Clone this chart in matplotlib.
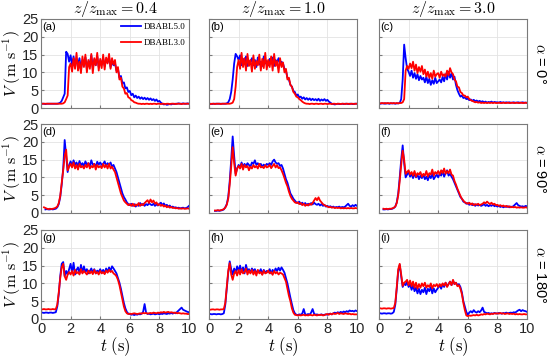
import numpy as np
import matplotlib
matplotlib.use("Agg")
import matplotlib.pyplot as plt

plt.rcParams['font.family'] = ['Liberation Sans', 'DejaVu Sans']
plt.rcParams['mathtext.fontset'] = 'cm'

nan = np.nan

# sample times (s), 0.1 s steps
t = np.linspace(0, 10, 101)

# column / row labels
z_ratios = ["0.4", "1.0", "3.0"]
alphas = ["0°", "90°", "180°"]
series_names = ["DBABL5.0", "DBABL3.0"]

# ---- alpha = 0 ----
a_blue = [1.2, 1.2, 1.2, 1.1, 1.2, 1.2, 1.2, 1.2, 1.2, 1.2,
          1.2, 1.2, 1.3, 1.5, 2.0, 3.0, 4.0, 15.8, 15.2, 13.0,
          14.8, 12.0, 14.5, 11.5, 13.8, 12.2, 14.0, 10.8, 13.5, 12.0,
          14.2, 11.0, 13.0, 12.5, 14.8, 11.2, 13.6, 12.0, 14.5, 11.5,
          13.2, 12.4, 14.0, 11.8, 13.5, 12.8, 14.2, 11.5, 13.0, 12.0,
          12.5, 10.5, 11.0, 8.5, 9.0, 7.0, 7.2, 5.5, 5.8, 4.5,
          4.8, 3.6, 4.0, 3.0, 3.5, 2.8, 3.2, 2.6, 3.0, 2.5,
          2.9, 2.4, 2.8, 2.3, 2.7, 2.2, 2.5, 2.0, 2.4, 1.8,
          2.0, 1.5, 1.2, 1.0, 1.1, 0.9, 1.0, 1.1, 1.0, 1.2,
          1.1, 1.2, 1.2, 1.3, 1.2, 1.2, 1.3, 1.2, 1.2, 1.3,
          1.2]
a_red = [1.2, 1.2, 1.2, 1.2, 1.2, 1.2, 1.2, 1.2, 1.2, 1.2,
         1.2, 1.2, 1.2, 1.2, 1.2, 1.3, 1.6, 2.5, 3.5, 11.5,
         12.5, 10.2, 14.0, 11.0, 15.5, 10.5, 13.0, 9.8, 14.5, 11.5,
         15.0, 10.0, 13.5, 11.0, 15.2, 9.8, 14.0, 12.0, 15.5, 10.5,
         13.8, 11.2, 15.0, 10.8, 14.2, 12.5, 15.2, 11.0, 14.0, 12.2,
         13.5, 10.0, 11.5, 8.0, 8.5, 6.0, 5.5, 4.0, 4.2, 3.0,
         2.8, 2.2, 2.0, 1.6, 1.5, 1.3, 1.2, 1.2, 1.1, 1.2,
         1.1, 1.2, 1.2, 1.1, 1.2, 1.1, 1.2, 1.2, 1.1, 1.2,
         1.2, 1.1, 1.2, 1.2, 1.1, 1.2, 1.2, 1.1, 1.2, 1.2,
         1.2, 1.1, 1.2, 1.2, 1.2, 1.1, 1.2, 1.2, 1.2, 1.2,
         1.2]
b_blue = [1.2, 1.2, 1.1, 1.2, 1.2, 1.2, 1.2, 1.2, 1.2, 1.2,
          1.2, 1.2, 1.3, 1.6, 2.5, 4.5, 8.0, 12.5, 15.2, 14.5,
          13.5, 14.8, 12.0, 13.8, 12.5, 14.5, 11.8, 13.2, 12.8, 14.0,
          12.0, 13.5, 11.5, 14.2, 12.2, 13.0, 11.8, 14.5, 12.5, 13.2,
          12.0, 13.8, 12.5, 14.2, 11.8, 13.5, 12.8, 14.0, 12.2, 13.0,
          12.5, 11.0, 10.5, 8.5, 8.0, 6.5, 6.0, 4.8, 4.5, 3.5,
          3.8, 3.0, 3.2, 2.6, 3.0, 2.4, 2.8, 2.3, 2.7, 2.2,
          2.6, 2.2, 2.5, 2.1, 2.6, 2.0, 2.4, 2.1, 2.5, 2.0,
          2.3, 1.8, 1.5, 1.2, 1.1, 1.0, 1.1, 1.2, 1.1, 1.1,
          1.2, 1.1, 1.2, 1.2, 1.1, 1.2, 1.2, 1.1, 1.2, 1.2,
          1.2]
b_red = [1.2, 1.1, 1.2, 1.2, 1.1, 1.2, 1.2, 1.2, 1.1, 1.2,
         1.2, 1.2, 1.2, 1.2, 1.2, 1.3, 1.5, 2.5, 6.0, 11.5,
         13.5, 11.0, 15.5, 11.5, 14.0, 10.5, 15.2, 11.8, 13.5, 10.2,
         14.8, 11.0, 13.2, 12.0, 15.0, 10.5, 13.8, 11.2, 15.5, 10.8,
         13.5, 11.5, 14.5, 10.5, 15.2, 11.8, 13.2, 10.0, 14.0, 11.5,
         12.8, 10.0, 11.0, 8.0, 8.5, 6.5, 6.0, 4.5, 4.0, 3.2,
         3.0, 2.5, 2.2, 1.8, 1.5, 1.3, 1.2, 1.2, 1.1, 1.2,
         1.2, 1.1, 1.2, 1.2, 1.1, 1.2, 1.2, 1.1, 1.2, 1.2,
         1.1, 1.2, 1.2, 1.1, 1.2, 1.2, 1.1, 1.2, 1.2, 1.1,
         1.2, 1.2, 1.1, 1.2, 1.2, 1.1, 1.2, 1.2, 1.1, 1.2,
         1.2]
c_blue = [1.3, 1.2, 1.3, 1.3, 1.2, 1.3, 1.3, 1.2, 1.3, 1.3,
          1.3, 1.2, 1.3, 1.3, 1.4, 2.5, 8.0, 17.8, 14.0, 11.0,
          10.2, 9.0, 10.5, 8.5, 9.8, 8.2, 9.5, 7.8, 9.0, 8.0,
          8.5, 7.2, 8.8, 7.0, 8.2, 6.5, 7.8, 6.8, 8.5, 7.0,
          7.5, 8.0, 7.2, 8.8, 7.5, 9.5, 8.0, 10.2, 8.5, 9.8,
          8.0, 8.8, 6.5, 5.0, 4.0, 3.2, 3.5, 2.8, 3.0, 2.5,
          2.6, 2.2, 2.4, 2.0, 2.3, 1.9, 2.1, 1.8, 2.0, 1.7,
          1.9, 1.6, 1.8, 1.5, 1.7, 1.6, 1.8, 1.5, 1.7, 1.6,
          1.6, 1.5, 1.7, 1.5, 1.6, 1.5, 1.6, 1.5, 1.6, 1.5,
          1.5, 1.6, 1.5, 1.5, 1.6, 1.5, 1.5, 1.6, 1.5, 1.5,
          1.5]
c_red = [1.4, 1.3, 1.4, 1.3, 1.4, 1.3, 1.4, 1.3, 1.4, 1.3,
         1.4, 1.3, 1.4, 1.3, 1.4, 1.4, 1.6, 2.5, 10.5, 11.8,
         11.0, 12.5, 11.2, 13.0, 10.5, 12.2, 9.8, 11.5, 10.2, 11.8,
         9.5, 10.8, 8.8, 10.2, 8.5, 9.8, 8.2, 10.5, 8.8, 9.5,
         9.8, 8.5, 10.2, 9.0, 9.5, 8.8, 10.5, 9.2, 11.2, 10.0,
         9.5, 8.0, 7.5, 6.0, 5.8, 4.5, 4.2, 3.5, 3.5, 3.0,
         3.2, 2.5, 2.2, 2.0, 1.8, 1.6, 1.7, 1.5, 1.6, 1.4,
         1.5, 1.4, 1.5, 1.4, 1.5, 1.4, 1.5, 1.4, 1.5, 1.4,
         1.4, 1.5, 1.4, 1.4, 1.5, 1.4, 1.4, 1.5, 1.4, 1.4,
         1.5, 1.4, 1.4, 1.5, 1.4, 1.4, 1.5, 1.4, 1.4, 1.5,
         1.4]

# ---- alpha = 90 ----
d_blue = [nan, nan, nan, 1.0, 1.1, 1.0, 1.0, 1.1, 1.0, 1.1,
          1.2, 1.6, 2.5, 4.5, 8.0, 12.5, 20.5, 16.0, 11.5, 13.5,
          14.5, 13.2, 14.8, 13.5, 14.2, 13.0, 14.6, 13.4, 14.0, 13.2,
          14.5, 13.6, 14.0, 13.2, 14.8, 13.5, 13.8, 13.0, 14.4, 13.6,
          14.2, 13.5, 13.8, 14.5, 13.2, 14.0, 13.6, 14.2, 13.0, 13.5,
          12.5, 11.5, 10.0, 8.5, 7.0, 5.5, 4.5, 3.8, 3.0, 2.5,
          2.2, 2.6, 2.0, 2.5, 1.8, 2.4, 2.0, 2.8, 2.2, 2.6,
          2.0, 2.5, 2.2, 2.8, 2.4, 2.2, 2.6, 2.0, 2.4, 2.1,
          2.6, 2.9, 2.2, 2.7, 2.0, 2.3, 1.8, 2.1, 1.6, 1.8,
          1.5, 1.6, 1.4, 1.5, 1.3, 1.4, 1.5, 1.3, 1.4, 1.6,
          2.0]
d_red = [nan, nan, 1.6, 1.4, 1.2, 1.1, 1.2, 1.1, 1.2, 1.3,
         1.5, 1.8, 2.8, 4.8, 8.5, 12.0, 16.0, 17.8, 12.0, 13.0,
         13.8, 12.8, 14.2, 12.5, 13.5, 12.2, 13.8, 12.8, 13.2, 12.5,
         13.5, 12.8, 14.0, 12.5, 13.2, 12.8, 13.8, 12.2, 13.5, 12.8,
         13.2, 12.6, 13.8, 12.8, 13.5, 12.5, 13.8, 12.5, 13.0, 12.2,
         11.5, 10.0, 8.5, 7.0, 5.5, 4.5, 3.5, 3.0, 2.6, 2.2,
         2.5, 2.0, 2.6, 1.9, 2.4, 2.1, 2.8, 2.0, 2.5, 2.2,
         2.8, 3.2, 3.6, 2.8, 3.8, 3.0, 3.5, 2.6, 3.0, 2.2,
         2.5, 2.0, 2.3, 1.8, 2.1, 1.6, 1.9, 1.5, 1.7, 1.4,
         1.5, 1.3, 1.4, 1.2, 1.3, 1.2, 1.3, 1.2, 1.2, 1.3,
         1.2]
e_blue = [nan, nan, nan, nan, 0.6, 0.6, 0.7, 0.6, 0.7, 0.8,
          1.0, 1.6, 2.5, 4.5, 9.0, 15.0, 21.5, 16.0, 11.0, 12.5,
          13.5, 12.8, 14.2, 13.0, 13.8, 13.2, 14.0, 13.5, 13.0, 14.2,
          13.8, 14.8, 13.5, 14.0, 13.2, 13.8, 13.0, 13.6, 13.2, 13.8,
          13.5, 14.0, 13.5, 14.5, 15.0, 14.2, 13.8, 14.0, 13.2, 13.5,
          12.5, 11.0, 9.5, 8.5, 7.0, 5.5, 4.8, 4.0, 3.5, 3.0,
          2.8, 3.2, 2.5, 2.9, 2.4, 2.8, 2.2, 2.6, 2.3, 2.8,
          2.4, 2.9, 2.5, 2.3, 2.6, 2.1, 2.5, 2.0, 2.3, 1.8,
          2.0, 1.7, 1.9, 1.6, 1.8, 1.5, 1.7, 1.6, 1.8, 1.5,
          1.7, 1.6, 1.8, 2.2, 2.6, 2.0, 1.8, 2.2, 1.9, 2.3,
          2.0]
e_red = [nan, nan, nan, nan, 0.7, 0.7, 0.8, 0.7, 0.8, 0.9,
         1.1, 1.5, 2.3, 4.0, 8.0, 13.0, 18.5, 14.0, 10.5, 12.5,
         13.2, 12.5, 13.8, 12.2, 13.5, 12.8, 13.2, 12.0, 13.0, 12.5,
         13.5, 12.8, 13.2, 12.5, 13.8, 12.8, 13.0, 12.6, 13.4, 12.8,
         13.0, 13.5, 12.6, 13.2, 13.8, 12.8, 13.4, 12.6, 12.8, 12.0,
         11.0, 9.8, 8.5, 7.5, 6.0, 4.8, 4.0, 3.5, 3.0, 2.8,
         3.0, 2.5, 2.8, 2.2, 2.6, 2.0, 2.4, 2.1, 2.6, 2.3,
         2.8, 3.5, 4.2, 3.6, 4.4, 3.5, 3.0, 2.5, 2.2, 2.0,
         1.8, 1.6, 1.7, 1.5, 1.6, 1.4, 1.5, 1.4, 1.5, 1.3,
         1.4, 1.3, 1.4, 1.3, 1.4, 1.3, 1.4, 1.3, 1.3, 1.4,
         1.3]
f_blue = [nan, nan, nan, 1.0, 1.0, 1.1, 1.0, 1.1, 1.1, 1.2,
          1.4, 1.8, 3.0, 5.5, 10.0, 15.0, 19.0, 14.0, 10.0, 10.8,
          11.5, 10.2, 11.0, 9.8, 11.2, 10.0, 10.8, 9.5, 10.5, 9.8,
          10.8, 9.5, 10.2, 9.2, 10.5, 9.8, 11.0, 9.5, 10.2, 10.8,
          10.0, 11.0, 10.5, 11.8, 10.2, 11.2, 12.0, 10.5, 11.0, 10.2,
          9.5, 8.5, 7.5, 6.5, 5.5, 4.5, 4.0, 3.2, 3.0, 2.6,
          2.8, 2.3, 2.6, 2.2, 2.5, 2.0, 2.4, 2.1, 2.3, 2.0,
          2.2, 2.5, 2.0, 2.3, 1.9, 2.2, 2.0, 2.4, 1.9, 2.1,
          1.8, 2.0, 1.7, 1.9, 1.6, 1.8, 1.7, 1.9, 1.6, 1.8,
          1.7, 2.0, 2.4, 2.8, 2.2, 2.0, 1.8, 1.9, 1.7, 2.0,
          1.9]
f_red = [nan, nan, nan, 1.2, 1.1, 1.2, 1.1, 1.2, 1.2, 1.3,
         1.5, 1.8, 2.8, 5.0, 9.0, 13.5, 17.5, 15.0, 11.0, 11.5,
         12.0, 10.8, 11.5, 10.5, 11.8, 10.2, 11.2, 10.8, 11.5, 10.2,
         11.0, 10.5, 11.8, 10.2, 11.2, 10.8, 12.2, 10.5, 11.5, 11.0,
         11.8, 10.8, 12.0, 11.2, 12.5, 11.0, 11.8, 11.2, 12.2, 10.8,
         10.5, 9.0, 8.0, 6.8, 5.8, 4.8, 4.0, 3.5, 3.0, 2.8,
         2.6, 2.9, 2.4, 2.7, 2.2, 2.5, 2.3, 2.6, 2.2, 2.4,
         2.6, 3.0, 2.7, 3.2, 2.8, 2.5, 2.9, 2.4, 2.6, 2.2,
         2.3, 2.0, 2.2, 1.9, 2.1, 1.8, 2.0, 1.7, 1.9, 1.6,
         1.7, 1.6, 1.7, 1.5, 1.6, 1.5, 1.6, 1.5, 1.5, 1.6,
         1.5]

# ---- alpha = 180 ----
g_blue = [1.8, 1.8, 1.7, 1.8, 1.8, 1.7, 1.8, 1.8, 1.7, 1.8,
          1.9, 3.5, 7.0, 12.0, 15.5, 16.0, 12.0, 13.5, 12.5, 14.0,
          15.5, 13.0, 15.8, 12.5, 13.8, 14.5, 12.8, 15.2, 13.0, 14.8,
          13.2, 14.0, 12.8, 13.5, 14.2, 13.0, 14.0, 12.8, 13.6, 13.2,
          14.0, 13.0, 13.8, 12.8, 14.2, 13.2, 14.5, 13.5, 14.8, 14.2,
          13.5, 12.8, 11.5, 10.2, 8.5, 6.5, 4.5, 3.0, 2.0, 1.5,
          1.4, 1.2, 1.3, 1.1, 1.3, 1.2, 1.4, 1.3, 1.5, 2.0,
          4.2, 1.8, 1.4, 1.5, 1.3, 1.4, 1.5, 1.3, 1.4, 1.5,
          1.3, 1.5, 1.4, 1.6, 1.5, 1.4, 1.6, 1.5, 1.7, 1.5,
          1.8, 1.6, 2.0, 2.4, 2.8, 3.2, 2.6, 2.4, 2.2, 2.0,
          1.9]
g_red = [2.7, 2.7, 2.8, 2.7, 2.7, 2.8, 2.7, 2.7, 2.8, 2.7,
         2.8, 4.0, 7.5, 11.5, 14.5, 15.5, 12.0, 11.0, 12.5, 13.2,
         12.5, 13.5, 12.2, 13.8, 12.8, 13.2, 12.5, 14.0, 12.8, 13.5,
         13.0, 12.5, 13.6, 12.8, 13.4, 12.6, 13.8, 12.8, 13.2, 12.5,
         13.5, 12.8, 13.2, 12.6, 13.6, 13.0, 13.8, 13.2, 13.5, 12.8,
         12.5, 12.0, 11.0, 9.5, 7.5, 5.5, 3.5, 2.2, 1.6, 1.4,
         1.5, 1.4, 1.5, 1.6, 1.5, 1.4, 1.5, 1.6, 1.5, 1.7,
         1.6, 1.7, 1.5, 1.6, 1.7, 1.6, 1.8, 1.7, 1.6, 1.8,
         1.7, 1.9, 1.8, 2.0, 1.8, 1.9, 2.0, 1.8, 1.9, 1.8,
         1.7, 1.8, 1.6, 1.7, 1.6, 1.5, 1.6, 1.5, 1.5, 1.4,
         1.4]
h_blue = [1.4, 1.4, 1.3, 1.4, 1.4, 1.3, 1.4, 1.4, 1.3, 1.4,
          1.6, 4.0, 8.5, 13.0, 16.2, 14.0, 12.5, 14.2, 13.0, 14.8,
          13.5, 15.0, 13.2, 14.5, 12.8, 15.2, 13.5, 14.0, 13.0, 14.2,
          13.5, 14.0, 12.8, 13.6, 13.2, 14.0, 12.6, 13.8, 13.0, 13.5,
          13.2, 14.0, 12.8, 13.8, 13.2, 14.2, 13.5, 14.4, 13.6, 14.5,
          13.8, 13.0, 11.5, 10.0, 8.0, 6.0, 4.2, 2.5, 1.6, 1.2,
          1.1, 1.3, 1.2, 1.5, 2.8, 1.3, 1.2, 1.4, 1.2, 1.8,
          2.8, 1.5, 1.2, 1.3, 1.1, 1.2, 1.3, 1.1, 1.2, 1.3,
          1.2, 1.4, 1.5, 1.3, 1.6, 1.8, 1.6, 1.9, 1.7, 2.0,
          1.8, 2.1, 1.9, 2.2, 2.0, 2.4, 2.2, 2.3, 2.1, 2.4,
          2.2]
h_red = [2.7, 2.6, 2.7, 2.7, 2.6, 2.7, 2.7, 2.6, 2.7, 2.7,
         2.8, 4.5, 9.0, 13.5, 15.7, 12.5, 11.0, 12.8, 13.5, 12.2,
         13.8, 12.5, 14.0, 12.8, 13.2, 14.2, 12.5, 13.6, 12.8, 13.8,
         12.5, 13.5, 12.2, 13.8, 12.8, 13.2, 12.4, 13.6, 12.8, 13.0,
         13.6, 12.8, 13.2, 12.4, 13.5, 12.8, 13.2, 12.5, 13.0, 12.8,
         12.5, 11.5, 10.5, 8.5, 6.5, 5.0, 3.0, 1.8, 1.2, 1.1,
         1.0, 1.1, 1.0, 1.1, 1.2, 1.0, 1.1, 1.0, 1.2, 1.1,
         1.0, 1.2, 1.1, 1.0, 1.2, 1.1, 1.2, 1.0, 1.1, 1.3,
         1.4, 1.2, 1.5, 1.3, 1.6, 1.4, 1.5, 1.7, 1.4, 1.6,
         1.5, 1.4, 1.6, 1.5, 1.4, 1.5, 1.3, 1.4, 1.3, 1.3,
         1.3]
i_blue = [1.6, 1.6, 1.5, 1.6, 1.6, 1.5, 1.6, 1.6, 1.5, 1.6,
          2.0, 4.0, 8.5, 13.5, 15.2, 12.0, 9.0, 10.0, 9.5, 10.5,
          9.0, 9.8, 8.2, 9.5, 7.8, 8.8, 7.2, 8.5, 7.0, 8.2,
          7.5, 8.8, 7.0, 8.5, 7.8, 9.0, 7.2, 8.6, 7.5, 8.2,
          8.8, 9.5, 8.5, 9.8, 9.0, 10.2, 9.2, 9.8, 10.5, 9.5,
          10.8, 9.8, 10.2, 9.5, 9.8, 9.0, 7.5, 5.0, 3.5, 2.0,
          1.2, 1.8, 2.2, 1.8, 2.5, 2.0, 1.8, 2.2, 1.9, 2.4,
          3.2, 2.0, 1.8, 1.6, 1.7, 1.5, 1.6, 1.5, 1.7, 1.6,
          1.5, 1.7, 1.6, 1.5, 1.7, 1.6, 1.8, 1.6, 1.7, 1.8,
          1.7, 1.9, 1.8, 2.1, 2.4, 2.6, 2.2, 2.5, 2.3, 2.2,
          2.0]
i_red = [3.0, 3.0, 2.9, 3.0, 3.0, 2.9, 3.0, 3.0, 2.9, 3.0,
         3.1, 4.5, 9.0, 14.0, 15.5, 12.5, 9.3, 10.2, 10.5, 11.0,
         9.5, 10.8, 9.2, 10.5, 8.8, 10.2, 8.5, 9.8, 8.8, 10.0,
         9.2, 10.2, 8.8, 9.5, 9.0, 10.0, 8.6, 9.6, 9.2, 9.8,
         9.0, 9.8, 9.2, 10.0, 9.4, 10.2, 9.0, 9.8, 10.5, 9.5,
         11.0, 9.8, 10.2, 9.2, 9.5, 8.5, 7.0, 4.5, 2.5, 1.0,
         0.8, 1.0, 0.9, 1.0, 1.1, 1.0, 1.2, 1.0, 1.1, 1.3,
         1.2, 1.4, 1.3, 1.5, 1.4, 1.3, 1.5, 1.4, 1.6, 1.5,
         1.6, 1.5, 1.7, 1.5, 1.6, 1.4, 1.5, 1.6, 1.4, 1.5,
         1.4, 1.5, 1.3, 1.4, 1.3, 1.4, 1.3, 1.3, 1.4, 1.3,
         1.3]

panels = [
    ("a", a_blue, a_red), ("b", b_blue, b_red), ("c", c_blue, c_red),
    ("d", d_blue, d_red), ("e", e_blue, e_red), ("f", f_blue, f_red),
    ("g", g_blue, g_red), ("h", h_blue, h_red), ("i", i_blue, i_red),
]

W, H = 550, 360
fig = plt.figure(figsize=(5.5, 3.6), dpi=100)

lefts = [41, 209, 379]
tops = [19, 124, 230]
aw, ah = 148, 89
frame_col = "#7a7a7a"

for k, (lab, vb, vr) in enumerate(panels):
    r, c = divmod(k, 3)
    ax = fig.add_axes([lefts[c] / W, 1 - (tops[r] + ah) / H, aw / W, ah / H])
    lb, = ax.plot(t, vb, color=(0, 0, 1), lw=1.3)
    lr, = ax.plot(t, vr, color=(1, 0, 0), lw=1.3)
    ax.set_xlim(0, 10)
    ax.set_ylim(0, 25)
    ax.set_xticks([0, 2, 4, 6, 8, 10])
    ax.set_yticks([0, 5, 10, 15, 20, 25])
    ax.grid(True, color="#e3e3e3", lw=0.6)
    ax.set_axisbelow(True)
    for s in ax.spines.values():
        s.set_color(frame_col)
        s.set_linewidth(0.8)
    ax.tick_params(direction="in", length=2, color=frame_col, labelsize=10.5,
                   labelcolor="#262626", pad=2)
    if c != 0:
        ax.set_yticklabels([])
    if r != 2:
        ax.set_xticklabels([])
    else:
        ax.set_xlabel(r"$t\ (\mathrm{s})$", fontsize=12, labelpad=0)
    if r == 0:
        ax.set_title(r"$z/z_{\max} = " + z_ratios[c] + "$", fontsize=11.5, pad=3)
    ax.text(0.01, 0.97, "(" + lab + ")", transform=ax.transAxes, ha="left",
            va="top", fontsize=8)
    if k == 0:
        ax.legend([lb, lr], series_names, loc="upper right", frameon=False,
                  prop={"family": "Liberation Serif", "size": 6.5},
                  handlelength=2.2, handletextpad=0.3, labelspacing=0.9,
                  borderaxespad=0.2, borderpad=0.2)

# row labels: y label on the left, alpha on the right
for r in range(3):
    yc = 1 - (tops[r] + ah / 2) / H
    fig.text(12 / W, yc, r"$V\ (\mathrm{m\ s^{-1}})$", rotation=90,
             ha="center", va="center", fontsize=11.5)
    fig.text(540 / W, yc, r"$\alpha$ = " + alphas[r], rotation=-90,
             ha="center", va="center", fontsize=10.5)

fig.savefig("out.png", dpi=100)
